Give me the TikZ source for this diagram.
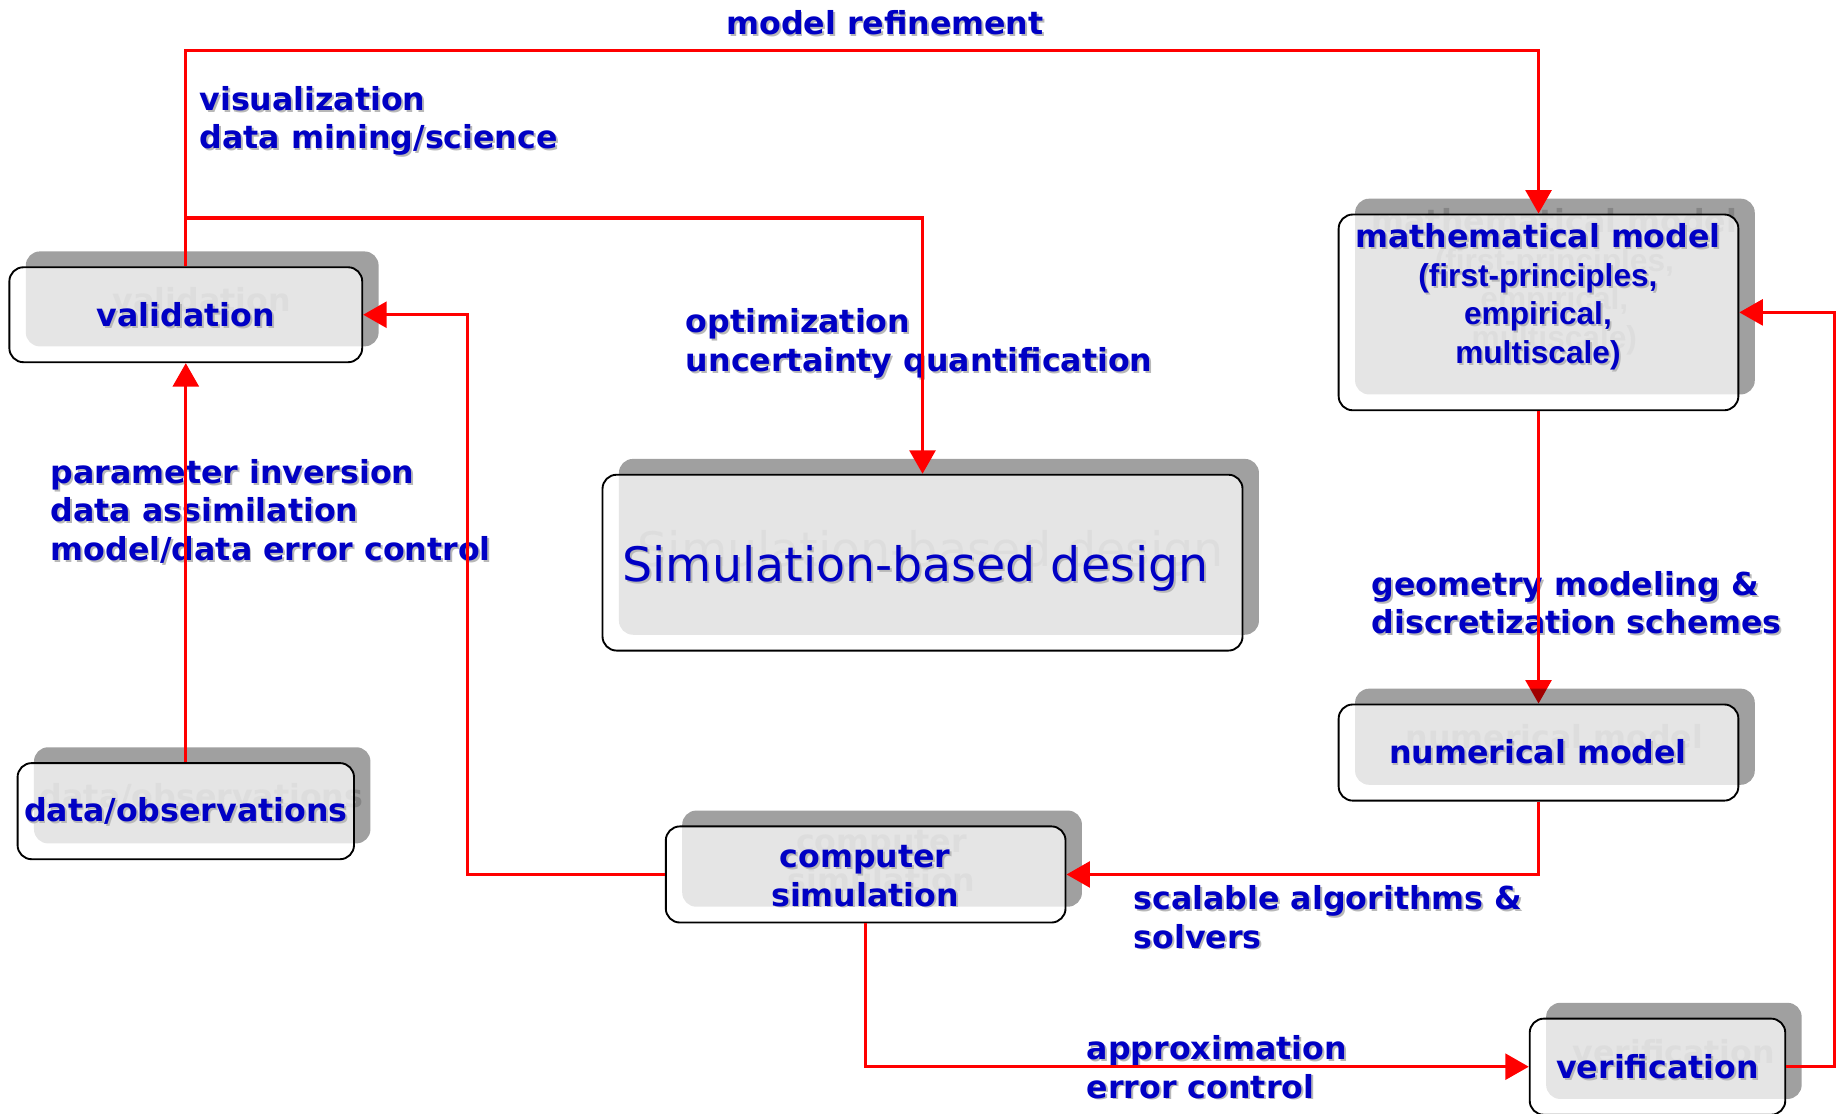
\documentclass[tikz,border=0pt]{standalone}
\usepackage{fontspec}
\setmainfont{DejaVu Sans}
\newfontfamily\arialfont{Liberation Sans}
\usetikzlibrary{arrows.meta}
\definecolor{lblue}{HTML}{0000C4}
\definecolor{lred}{HTML}{FF0000}
\definecolor{ghost}{HTML}{858585}
\newcommand\shtxt[1]{\leavevmode\rlap{\kern1.6pt\raisebox{-1.6pt}{\textcolor{black!28}{#1}}}#1}
\tikzset{
  shadowbox/.style={rectangle, rounded corners=12pt, fill=black, fill opacity=0.373, draw=none, inner sep=0pt},
  outlinebox/.style={rectangle, rounded corners=12pt, draw=black, line width=1.6pt, fill=white, fill opacity=0.726, draw opacity=1, inner sep=0pt},
  boxtext/.style={text=lblue, font=\bfseries\fontsize{27}{33}\selectfont, align=center, inner sep=0pt},
  ghosttext/.style={text=ghost, font=\bfseries\fontsize{27}{33}\selectfont, align=center, inner sep=0pt},
  edgelabel/.style={text=lblue, font=\bfseries\fontsize{27}{33}\selectfont, align=left, inner sep=0pt, anchor=west},
  conn/.style={draw=lred, line width=2.8pt},
  arr/.style={conn, -{Triangle[length=20pt,width=22pt]}}
}
\begin{document}
\begin{tikzpicture}[x=1pt,y=-1pt]
\useasboundingbox (0,0) rectangle (1568,950);

% edge labels
\node[edgelabel, anchor=center] (l-mr) at (755,20) {\shtxt{model refinement}};
\node[edgelabel] (l-vis) at (170,104) {\shtxt{visualization}\\\shtxt{data mining/science}};
\node[edgelabel] (l-opt) at (585,294) {\shtxt{optimization}\\\shtxt{uncertainty quantification}};
\node[edgelabel] (l-par) at (43,437) {\shtxt{parameter inversion}\\\shtxt{data assimilation}\\\shtxt{model/data error control}};
\node[edgelabel] (l-geo) at (1170,515) {\shtxt{geometry modeling \&}\\\shtxt{discretization schemes}};
\node[edgelabel] (l-sca) at (967,783) {\shtxt{scalable algorithms \&}\\\shtxt{solvers}};
\node[edgelabel] (l-app) at (927,911) {\shtxt{approximation}\\\shtxt{error control}};

% mathematical model
\node[shadowbox, minimum width=341pt, minimum height=167pt] (math-s) at (1326.5,253) {};
\node[ghosttext] (math-g) at (1326,240.5) {mathematical model\\{\arialfont (first-principles,}\\{\arialfont empirical,}\\{\arialfont multiscale)}};
\node[outlinebox, minimum width=341pt, minimum height=167pt] (math) at (1312.5,266.5) {};
\node[boxtext] (math-t) at (1312,254) {\shtxt{mathematical model}\\{\arialfont\shtxt{(first-principles,}}\\{\arialfont\shtxt{empirical,}}\\{\arialfont\shtxt{multiscale)}}};

% numerical model (arrow drawn beneath its shadow)
\node[outlinebox, draw=none, fill=none, minimum width=341pt, minimum height=82pt] (num) at (1312.5,642) {};
\draw[arr] (math.south) -- (num.north);
\node[shadowbox, minimum width=341pt, minimum height=82pt] (num-s) at (1326.5,628.5) {};
\node[ghosttext] (num-g) at (1326,628.5) {numerical model};
\node[outlinebox, minimum width=341pt, minimum height=82pt] (num-o) at (1312.5,642) {};
\node[boxtext] (num-t) at (1312,642) {\shtxt{numerical model}};

% validation
\node[shadowbox, minimum width=301pt, minimum height=81pt] (val-s) at (172.5,255) {};
\node[ghosttext] (val-g) at (172,255.5) {validation};
\node[outlinebox, minimum width=301pt, minimum height=81pt] (val) at (158.5,268.5) {};
\node[boxtext] (val-t) at (158.5,269) {\shtxt{validation}};

% simulation-based design
\node[shadowbox, minimum width=546pt, minimum height=150pt] (sim-s) at (801,466.5) {};
\node[text=ghost, font=\fontsize{40.5}{48}\selectfont, inner sep=0pt] (sim-g) at (794,472.5) {Simulation-based design};
\node[outlinebox, minimum width=546pt, minimum height=150pt] (sim) at (787,480) {};
\node[text=lblue, font=\fontsize{40.5}{48}\selectfont, inner sep=0pt] (sim-t) at (781,486) {\shtxt{Simulation-based design}};

% data/observations
\node[shadowbox, minimum width=287pt, minimum height=82pt] (data-s) at (172.5,678.5) {};
\node[ghosttext] (data-g) at (172,679.5) {data/observations};
\node[outlinebox, minimum width=287pt, minimum height=82pt] (data) at (158.5,692) {};
\node[boxtext] (data-t) at (158.5,693) {\shtxt{data/observations}};

% computer simulation
\node[shadowbox, minimum width=341pt, minimum height=82pt] (comp-s) at (752.5,732.5) {};
\node[ghosttext] (comp-g) at (752,734.5) {computer\\simulation};
\node[outlinebox, minimum width=341pt, minimum height=82pt] (comp) at (738.5,746) {};
\node[boxtext] (comp-t) at (738,748) {\shtxt{computer}\\\shtxt{simulation}};

% verification
\node[shadowbox, minimum width=218pt, minimum height=82pt] (ver-s) at (1428,896.5) {};
\node[ghosttext] (ver-g) at (1428,897.5) {verification};
\node[outlinebox, minimum width=218pt, minimum height=82pt] (ver) at (1414,910) {};
\node[boxtext] (ver-t) at (1414,911) {\shtxt{verification}};

% connectors
\coordinate (mr) at (158.5,43);
\coordinate (vb) at (158.5,186);
\coordinate (cv) at (399,746);
\coordinate (vr) at (1565,910);
\draw[arr] (val.north) -- (mr) -| (math.north);
\draw[arr] (vb) -| (sim.north);
\draw[arr] (comp.west) -- (cv) |- (val.east);
\draw[arr] (data.north) -- (val.south);
\draw[arr] (num.south) |- (comp.east);
\draw[arr] (comp.south) |- (ver.west);
\draw[arr] (ver.east) -- (vr) |- (math.east);
\end{tikzpicture}
\end{document}
